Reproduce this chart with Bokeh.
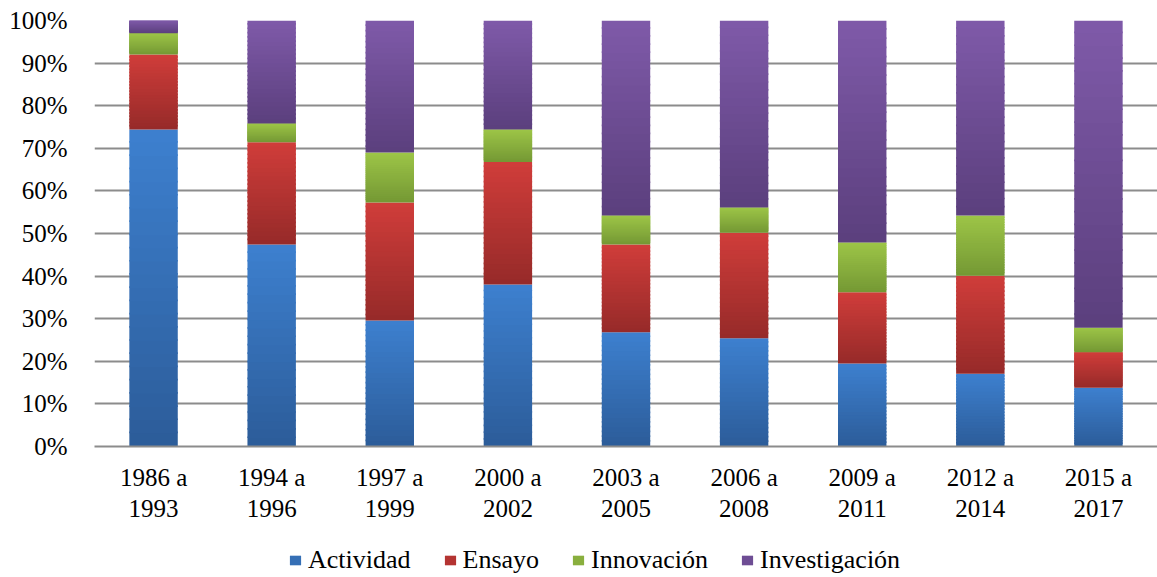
from bokeh.plotting import figure
from bokeh.layouts import column
from bokeh.models import (ColumnDataSource, Legend, LegendItem, FactorRange,
                          NumeralTickFormatter, FixedTicker, CategoricalAxis,
                          CustomJSTickFormatter)
from bokeh.embed import file_html
from bokeh.resources import INLINE

periods = ["1986 a 1993", "1994 a 1996", "1997 a 1999", "2000 a 2002", "2003 a 2005",
           "2006 a 2008", "2009 a 2011", "2012 a 2014", "2015 a 2017"]
actividad = [74.4, 47.4, 29.6, 38.0, 26.8, 25.4, 19.5, 17.1, 13.8]
ensayo = [17.6, 24.0, 27.7, 28.8, 20.6, 24.8, 16.7, 23.0, 8.3]
innovacion = [5.0, 4.4, 11.7, 7.6, 6.8, 5.9, 11.7, 14.1, 5.8]
investigacion = [3.0, 24.2, 31.0, 25.6, 45.8, 43.9, 52.1, 45.8, 72.1]

series_names = ["Actividad", "Ensayo", "Innovación", "Investigación"]
series_values = [actividad, ensayo, innovacion, investigacion]
# (top colour, bottom colour) for the vertical gradient of each series
series_colors = [("#3d80cf", "#2c5c99"), ("#d03d3a", "#962a29"),
                 ("#9dc547", "#749834"), ("#7f5aa9", "#5b3f7d")]

N_SLICES = 24
FONT = "Liberation Serif"
FS = "25px"
W = 1157
H_MAIN = 530
H_LEG = 47

def lerp_color(c1, c2, t):
    a = [int(c1[i:i + 2], 16) for i in (1, 3, 5)]
    b = [int(c2[i:i + 2], 16) for i in (1, 3, 5)]
    return "#%02x%02x%02x" % tuple(round(a[k] + (b[k] - a[k]) * t) for k in range(3))

xr = FactorRange(*periods, range_padding=0, group_padding=0)
p = figure(x_range=xr, y_range=(0, 1), width=W, height=H_MAIN,
           output_backend="svg", toolbar_location=None,
           min_border_left=94, min_border_right=0, min_border_top=20,
           min_border_bottom=H_MAIN - 446)

# legend strip below the chart (shares the bar data; bars lie outside its view)
pl = figure(x_range=xr, y_range=(5, 6), width=W, height=H_LEG,
            output_backend="svg", toolbar_location=None,
            x_axis_location=None, y_axis_location=None, min_border=0)
pl.grid.visible = False
pl.outline_line_color = None

totals = [sum(v[i] for v in series_values) for i in range(len(periods))]
base = [0.0] * len(periods)
items = []
for name, vals, (ctop, cbot) in zip(series_names, series_values, series_colors):
    xs, tops, bottoms, colors = [], [], [], []
    for i, per in enumerate(periods):
        b0 = base[i] / totals[i]
        t0 = (base[i] + vals[i]) / totals[i]
        for k in range(N_SLICES):
            bb = b0 + (t0 - b0) * k / N_SLICES
            tt = b0 + (t0 - b0) * (k + 1) / N_SLICES
            xs.append(per)
            bottoms.append(bb)
            tops.append(min(tt + 0.004, t0))
            colors.append(lerp_color(cbot, ctop, (k + 0.5) / N_SLICES))
        base[i] += vals[i]
    src = ColumnDataSource(dict(x=xs, top=tops, bottom=bottoms, color=colors))
    p.vbar(x="x", top="top", bottom="bottom", width=0.41, source=src,
           fill_color="color", line_color=None)
    rl = pl.vbar(x="x", top="top", bottom="bottom", width=0.41, source=src,
                 fill_color="color", line_color=None)
    items.append(LegendItem(label=name, renderers=[rl], index=N_SLICES // 2))

# two-line category labels: first line on the main axis, second on an extra axis
p.xaxis[0].formatter = CustomJSTickFormatter(code="return tick.split(' a ')[0] + ' a';")
ax2 = CategoricalAxis(formatter=CustomJSTickFormatter(code="return tick.split(' a ')[1];"))
p.add_layout(ax2, "below")

p.yaxis.ticker = FixedTicker(ticks=[i / 10 for i in range(11)])
p.yaxis.formatter = NumeralTickFormatter(format="0%")

for ax in (p.xaxis[0], ax2, p.yaxis[0]):
    ax.major_label_text_font = FONT
    ax.major_label_text_font_size = FS
    ax.major_label_text_color = "#000000"
    ax.major_tick_line_color = None
    ax.minor_tick_line_color = None
p.yaxis.axis_line_color = None
p.yaxis.major_label_standoff = 21
p.xaxis[0].axis_line_color = "#8c8c8c"
p.xaxis[0].axis_line_width = 2
p.xaxis[0].major_label_standoff = 11
ax2.axis_line_color = None
ax2.major_label_standoff = 0

p.xgrid.grid_line_color = None
p.ygrid.grid_line_color = "#8c8c8c"
p.ygrid.grid_line_width = 2
p.outline_line_color = None

legend = Legend(items=items, orientation="horizontal", location=(194, 2),
                label_text_font=FONT, label_text_font_size="26px", label_text_color="#000000",
                glyph_width=14, glyph_height=12, label_standoff=6, spacing=32,
                border_line_color=None, background_fill_alpha=0, padding=0, margin=0)
pl.add_layout(legend, "center")

layout = column(p, pl, spacing=0)
open("out.html", "w").write(file_html(layout, INLINE))
